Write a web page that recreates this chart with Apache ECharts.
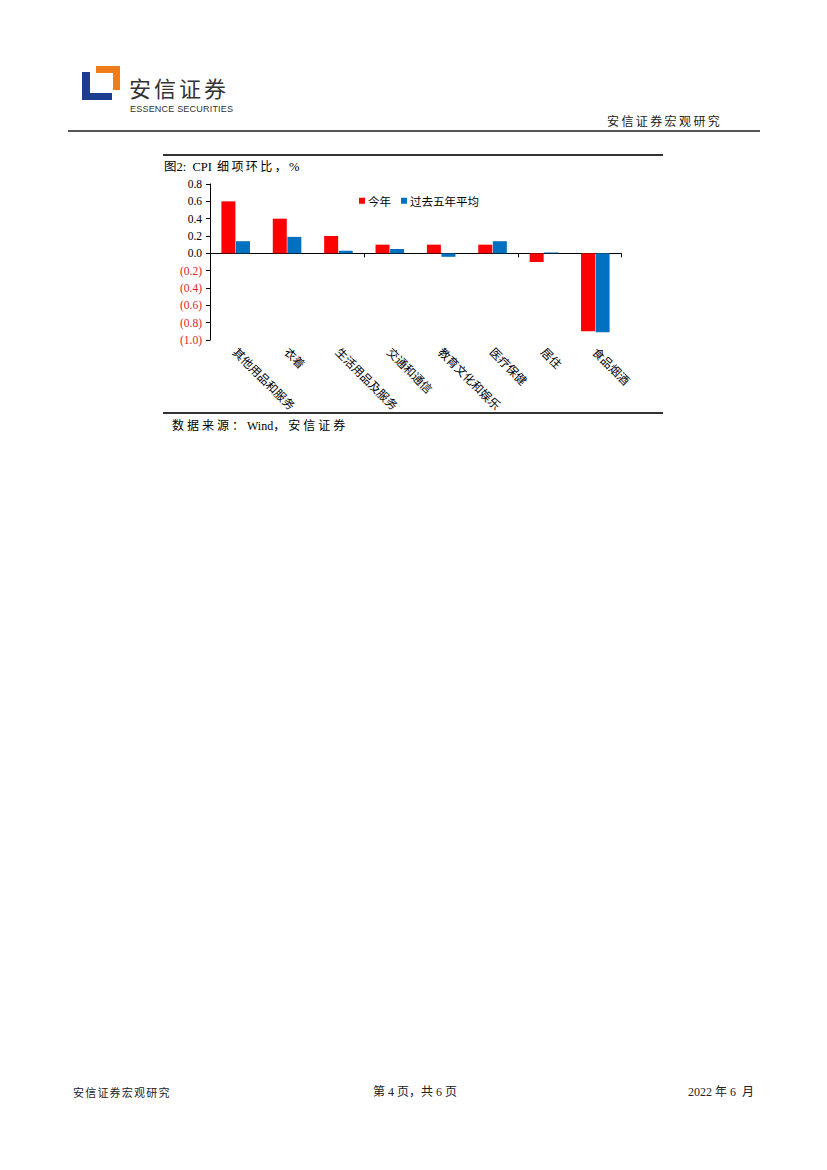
<!DOCTYPE html>
<html>
<head>
<meta charset="utf-8">
<script src="https://cdn.jsdelivr.net/npm/echarts@6/dist/echarts.min.js"></script>
<style>
  html, body { margin:0; padding:0; background:#fff; }
  body { width:827px; height:1170px; position:relative; overflow:hidden; font-family:"Liberation Serif","Noto Sans CJK SC",serif; color:#000; }
  .abs { position:absolute; white-space:nowrap; }
</style>
</head>
<body>
<!-- logo -->
<div class="abs" style="left:82px;top:72px;width:8px;height:28px;background:#1a3d8f;"></div>
<div class="abs" style="left:82px;top:93px;width:30px;height:7px;background:#1a3d8f;"></div>
<div class="abs" style="left:96px;top:66px;width:24px;height:7px;background:#f07c1a;"></div>
<div class="abs" style="left:113px;top:66px;width:7px;height:24px;background:#f07c1a;"></div>
<div class="abs" style="left:129px;top:76px;font-family:'Noto Sans CJK SC',sans-serif;font-size:22px;line-height:22px;color:#333;letter-spacing:3px;">安信证券</div>
<div class="abs" style="left:130px;top:104px;font-family:'Liberation Sans',sans-serif;font-size:9.5px;line-height:9.5px;color:#333;transform:scaleX(0.95);transform-origin:left top;letter-spacing:0.2px;">ESSENCE SECURITIES</div>
<div class="abs" style="left:607px;top:113px;font-family:'Noto Sans CJK SC',serif;font-size:12px;line-height:16px;letter-spacing:2.4px;color:#222;">安信证券宏观研究</div>
<div class="abs" style="left:68px;top:130px;width:692px;height:2px;background:#555;"></div>

<!-- chart frame -->
<div class="abs" style="left:163px;top:154px;width:500px;height:1.5px;background:#333;"></div>
<div class="abs" style="left:164px;top:158px;font-size:12.5px;line-height:16px;">图2:&nbsp; CPI<span style="font-family:'Noto Sans CJK SC';font-size:12px;letter-spacing:2.4px;"> 细项环比，</span>%</div>
<div class="abs" style="left:163px;top:412px;width:500px;height:1.5px;background:#333;"></div>
<div class="abs" style="left:172px;top:417px;font-size:12px;line-height:16px;"><span style="font-family:'Noto Sans CJK SC';letter-spacing:3px;">数据来源：</span>Wind<span style="font-family:'Noto Sans CJK SC';letter-spacing:3px;">，安信证券</span></div>

<div id="chart" class="abs" style="left:160px;top:170px;width:510px;height:245px;"></div>

<!-- footer -->
<div class="abs" style="left:73px;top:1085px;font-family:'Noto Sans CJK SC';font-size:11px;line-height:14px;letter-spacing:1.2px;color:#222;">安信证券宏观研究</div>
<div class="abs" style="left:373px;top:1085px;font-size:12px;line-height:14px;color:#222;">第 4 页，共 6 页</div>
<div class="abs" style="left:688px;top:1085px;font-size:12px;line-height:14px;color:#222;">2022 年 6&nbsp; 月</div>

<script>
var categories = ['其他用品和服务','衣着','生活用品及服务','交通和通信','教育文化和娱乐','医疗保健','居住','食品烟酒'];
var seriesNames = ['今年','过去五年平均'];
var thisYear = [0.6, 0.4, 0.2, 0.1, 0.1, 0.1, -0.1, -0.9];
var fiveYearAvg = [0.14, 0.19, 0.03, 0.05, -0.04, 0.14, 0.01, -0.91];
var yTicks = [-1.0, -0.8, -0.6, -0.4, -0.2, 0.0, 0.2, 0.4, 0.6, 0.8];

var chart = echarts.init(document.getElementById('chart'), null, {renderer:'svg'});
chart.setOption({
  animation:false,
  legend:{
    data:seriesNames, left:194, top:20, icon:'rect', itemWidth:6, itemHeight:6, itemGap:10,
    textStyle:{fontFamily:'Noto Sans CJK SC', fontSize:11.5, color:'#000', padding:[0,0,0,-2]}
  },
  grid:{left:50, top:14, width:411, height:156},
  xAxis:[{
    type:'category', data:categories, position:'bottom',
    axisLine:{onZero:true, lineStyle:{color:'#000', width:1}},
    axisTick:{show:true, inside:false, length:4, lineStyle:{color:'#000'}},
    axisLabel:{show:false}, splitLine:{show:false}
  },{
    type:'category', data:categories, position:'bottom',
    axisLine:{show:false, onZero:false}, axisTick:{show:false},
    axisLabel:{show:true, rotate:-45, margin:9, interval:0, fontFamily:'Noto Sans CJK SC', fontSize:11.7, color:'#000'}
  }],
  yAxis:{
    type:'value', min:yTicks[0], max:yTicks[yTicks.length-1], interval:0.2,
    axisLine:{show:true, lineStyle:{color:'#000'}},
    axisTick:{show:true, inside:false, length:4, lineStyle:{color:'#000'}},
    splitLine:{show:false},
    axisLabel:{
      margin:8, fontFamily:'Liberation Serif', fontSize:11.5,
      formatter:function(v){ v=Math.round(v*10)/10; return v<0 ? '('+Math.abs(v).toFixed(1)+')' : v.toFixed(1); },
      color:function(v){ return Number(v) < -0.001 ? '#d9232a' : '#000'; }
    }
  },
  series:[
    {name:seriesNames[0], type:'bar', xAxisIndex:0, data:thisYear, barWidth:14, barGap:'4%', itemStyle:{color:'#ff0000'}},
    {name:seriesNames[1], type:'bar', xAxisIndex:0, data:fiveYearAvg, barWidth:14, itemStyle:{color:'#0070c0'}}
  ]
});
</script>
</body>
</html>
